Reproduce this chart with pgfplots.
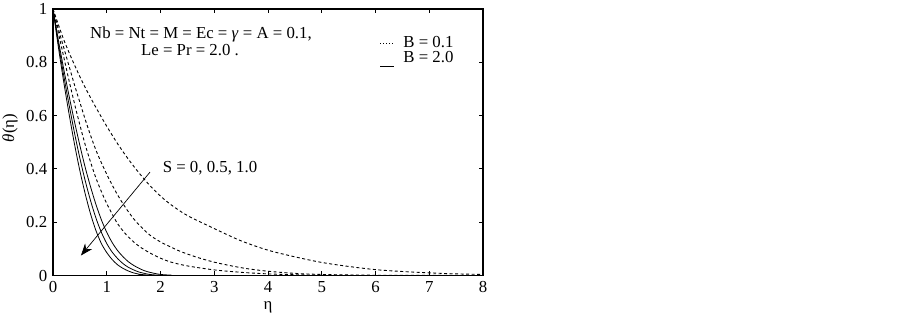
\documentclass[border=0pt]{standalone}
\usepackage{fontspec}
\setmainfont{Liberation Serif}
\usepackage{pgfplots}
\pgfplotsset{compat=1.18}
\usetikzlibrary{arrows.meta}
\begin{document}
\fontsize{16.8}{19}\selectfont
\begin{tikzpicture}[x=1pt,y=1pt]
\useasboundingbox (0,0) rectangle (902,321);
\begin{axis}[
  at={(53pt,45.5pt)}, anchor=south west,
  scale only axis, width=430pt, height=266.5pt,
  xmin=0, xmax=8, ymin=0, ymax=1,
  xtick={0,1,...,8},
  ytick={0,0.2,0.4,0.6,0.8,1},
  yticklabels={0,0.2,0.4,0.6,0.8,1},
  tick align=inside, major tick length=4pt,
  every tick/.style={black, line width=0.8pt},
  axis line style={line width=1.3pt},
  tick label style={font=\fontsize{16.8}{19}\selectfont},
  /pgf/number format/assume math mode=true,
  xlabel={η}, ylabel={\textit{θ}(η)},
  xlabel style={at={(axis description cs:0.5,-0.118)}, anchor=center},
  ylabel style={at={(axis description cs:-0.1,0.553)}, anchor=center},
  legend style={draw=none, fill=none, at={(axis description cs:0.752,0.915)}, anchor=north west,
    font=\fontsize{16.8}{19}\selectfont, row sep=-2pt},
  legend cell align=left,
  dsh/.style={black, line width=0.9pt, dash pattern=on 3pt off 2.5pt, smooth, tension=0.5},
  sld/.style={black, line width=0.8pt, smooth, tension=0.5},
]
% B = 0.1, S = 0
\addplot[dsh, legend image code/.code={\draw[black, line width=0.8pt, dash pattern=on 1pt off 2pt] (0pt,-1pt) -- (13pt,-1pt); \path (19pt,0pt);}] coordinates {
(0,1)(0.2,0.885)(0.4,0.79)(0.6,0.705)(0.8,0.63)(1.0,0.56)(1.2,0.495)(1.4,0.437)(1.6,0.385)(1.8,0.338)(2.0,0.298)(2.2,0.265)(2.5,0.225)(3.0,0.176)(3.5,0.13)(4.0,0.095)(4.5,0.07)(5.0,0.049)(5.5,0.034)(6.0,0.022)(6.5,0.015)(7.0,0.01)(7.5,0.006)(8.0,0.004)};
\addlegendentry{B = 0.1}
% B = 2.0, S = 0
\addplot[sld, legend image code/.code={\draw[black, line width=0.9pt] (0pt,-8pt) -- (14pt,-8pt); \path (21pt,0pt);}] coordinates {
(0,1)(0.1,0.883)(0.2,0.774)(0.3,0.673)(0.4,0.577)(0.5,0.488)(0.6,0.405)(0.7,0.332)(0.8,0.266)(0.9,0.209)(1.0,0.162)(1.1,0.124)(1.2,0.094)(1.3,0.071)(1.4,0.052)(1.5,0.038)(1.6,0.027)(1.7,0.018)(1.8,0.012)(1.9,0.0075)(2.0,0.004)(2.2,0.0013)(2.5,0)(8,0)};
\addlegendentry{B = 2.0}
% B = 0.1, S = 0.5
\addplot[dsh, forget plot] coordinates {
(0,1)(0.1,0.925)(0.2,0.855)(0.3,0.785)(0.4,0.715)(0.5,0.65)(0.6,0.585)(0.7,0.525)(0.8,0.47)(0.9,0.423)(1.0,0.38)(1.1,0.34)(1.2,0.303)(1.3,0.27)(1.4,0.24)(1.5,0.213)(1.6,0.19)(1.8,0.152)(2.0,0.126)(2.2,0.106)(2.4,0.088)(2.7,0.067)(3.0,0.05)(3.3,0.037)(3.6,0.026)(4.0,0.016)(4.5,0.008)(5.0,0.004)(6,0.001)(8,0)};
% B = 0.1, S = 1.0
\addplot[dsh, forget plot] coordinates {
(0,1)(0.1,0.91)(0.2,0.82)(0.3,0.73)(0.4,0.645)(0.5,0.565)(0.6,0.49)(0.7,0.425)(0.8,0.365)(0.9,0.315)(1.0,0.27)(1.2,0.195)(1.4,0.145)(1.6,0.11)(1.8,0.085)(2.0,0.065)(2.2,0.05)(2.5,0.036)(3.0,0.021)(3.5,0.012)(4.0,0.006)(4.5,0.003)(5,0.001)(6,0)(8,0)};
% B = 2.0, S = 0.5
\addplot[sld, forget plot] coordinates {
(0,1)(0.1,0.87)(0.2,0.75)(0.3,0.64)(0.4,0.535)(0.5,0.44)(0.6,0.355)(0.7,0.28)(0.8,0.215)(0.9,0.162)(1.0,0.12)(1.1,0.088)(1.2,0.064)(1.3,0.045)(1.4,0.031)(1.5,0.021)(1.6,0.013)(1.7,0.008)(1.8,0.004)(2.0,0.001)(2.5,0)(8,0)};
% B = 2.0, S = 1.0
\addplot[sld, forget plot] coordinates {
(0,1)(0.1,0.857)(0.2,0.726)(0.3,0.605)(0.4,0.493)(0.5,0.393)(0.6,0.306)(0.7,0.23)(0.8,0.168)(0.9,0.12)(1.0,0.086)(1.1,0.06)(1.2,0.0405)(1.3,0.027)(1.4,0.017)(1.5,0.0098)(1.6,0.005)(1.7,0.0027)(1.8,0.001)(2.0,0)(8,0)};
\node[anchor=base] at (axis cs:2.753,0.891) {Nb = Nt = M = Ec = \textit{γ} = A = 0.1,};
\node[anchor=base] at (axis cs:2.549,0.827) {Le = Pr = 2.0 .};
\node[anchor=base] at (axis cs:2.921,0.386) {S = 0, 0.5, 1.0};
\draw[black, line width=0.7pt, -{Stealth[length=12pt,width=9pt]}] (axis cs:1.805,0.388) -- (axis cs:0.52,0.075);
\end{axis}
\end{tikzpicture}
\end{document}
